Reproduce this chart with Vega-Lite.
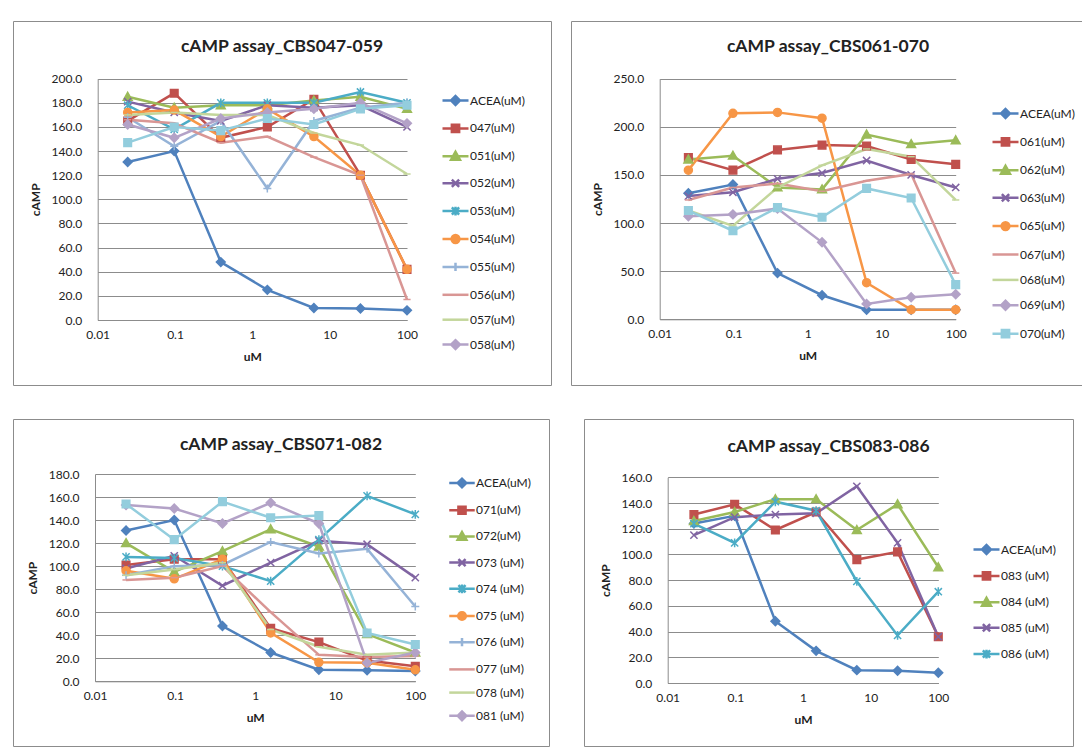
{
"$schema": "https://vega.github.io/schema/vega-lite/v6.json",
"background": "white",
"padding": {"left": 12, "top": 20, "right": 0, "bottom": 0},
"autosize": {"type": "pad"},
"datasets": {
"p1": [
{"series":"ACEA(uM)","uM":0.0244140625,"cAMP":131},{"series":"ACEA(uM)","uM":0.09765625,"cAMP":140},{"series":"ACEA(uM)","uM":0.390625,"cAMP":48},{"series":"ACEA(uM)","uM":1.5625,"cAMP":25},{"series":"ACEA(uM)","uM":6.25,"cAMP":10},{"series":"ACEA(uM)","uM":25,"cAMP":9.5},{"series":"ACEA(uM)","uM":100,"cAMP":8},
{"series":"047(uM)","uM":0.0244140625,"cAMP":165},{"series":"047(uM)","uM":0.09765625,"cAMP":188},{"series":"047(uM)","uM":0.390625,"cAMP":151},{"series":"047(uM)","uM":1.5625,"cAMP":160},{"series":"047(uM)","uM":6.25,"cAMP":183},{"series":"047(uM)","uM":25,"cAMP":120},{"series":"047(uM)","uM":100,"cAMP":42},
{"series":"051(uM)","uM":0.0244140625,"cAMP":185},{"series":"051(uM)","uM":0.09765625,"cAMP":176},{"series":"051(uM)","uM":0.390625,"cAMP":178},{"series":"051(uM)","uM":1.5625,"cAMP":178},{"series":"051(uM)","uM":6.25,"cAMP":182},{"series":"051(uM)","uM":25,"cAMP":185},{"series":"051(uM)","uM":100,"cAMP":175},
{"series":"052(uM)","uM":0.0244140625,"cAMP":181},{"series":"052(uM)","uM":0.09765625,"cAMP":172},{"series":"052(uM)","uM":0.390625,"cAMP":165},{"series":"052(uM)","uM":1.5625,"cAMP":178},{"series":"052(uM)","uM":6.25,"cAMP":176},{"series":"052(uM)","uM":25,"cAMP":178},{"series":"052(uM)","uM":100,"cAMP":160},
{"series":"053(uM)","uM":0.0244140625,"cAMP":178},{"series":"053(uM)","uM":0.09765625,"cAMP":158},{"series":"053(uM)","uM":0.390625,"cAMP":180},{"series":"053(uM)","uM":1.5625,"cAMP":180},{"series":"053(uM)","uM":6.25,"cAMP":180},{"series":"053(uM)","uM":25,"cAMP":189},{"series":"053(uM)","uM":100,"cAMP":180},
{"series":"054(uM)","uM":0.0244140625,"cAMP":172},{"series":"054(uM)","uM":0.09765625,"cAMP":174},{"series":"054(uM)","uM":0.390625,"cAMP":152},{"series":"054(uM)","uM":1.5625,"cAMP":175},{"series":"054(uM)","uM":6.25,"cAMP":152},{"series":"054(uM)","uM":25,"cAMP":120},{"series":"054(uM)","uM":100,"cAMP":42},
{"series":"055(uM)","uM":0.0244140625,"cAMP":168},{"series":"055(uM)","uM":0.09765625,"cAMP":144},{"series":"055(uM)","uM":0.390625,"cAMP":165},{"series":"055(uM)","uM":1.5625,"cAMP":109},{"series":"055(uM)","uM":6.25,"cAMP":165},{"series":"055(uM)","uM":25,"cAMP":176},{"series":"055(uM)","uM":100,"cAMP":180},
{"series":"056(uM)","uM":0.0244140625,"cAMP":166},{"series":"056(uM)","uM":0.09765625,"cAMP":163},{"series":"056(uM)","uM":0.390625,"cAMP":147},{"series":"056(uM)","uM":1.5625,"cAMP":152},{"series":"056(uM)","uM":6.25,"cAMP":135},{"series":"056(uM)","uM":25,"cAMP":120},{"series":"056(uM)","uM":100,"cAMP":17},
{"series":"057(uM)","uM":0.0244140625,"cAMP":170},{"series":"057(uM)","uM":0.09765625,"cAMP":172},{"series":"057(uM)","uM":0.390625,"cAMP":170},{"series":"057(uM)","uM":1.5625,"cAMP":170},{"series":"057(uM)","uM":6.25,"cAMP":155},{"series":"057(uM)","uM":25,"cAMP":145},{"series":"057(uM)","uM":100,"cAMP":121},
{"series":"058(uM)","uM":0.0244140625,"cAMP":162},{"series":"058(uM)","uM":0.09765625,"cAMP":151},{"series":"058(uM)","uM":0.390625,"cAMP":167},{"series":"058(uM)","uM":1.5625,"cAMP":172},{"series":"058(uM)","uM":6.25,"cAMP":175},{"series":"058(uM)","uM":25,"cAMP":180},{"series":"058(uM)","uM":100,"cAMP":163},
{"series":"059(uM)","uM":0.0244140625,"cAMP":147},{"series":"059(uM)","uM":0.09765625,"cAMP":160},{"series":"059(uM)","uM":0.390625,"cAMP":157},{"series":"059(uM)","uM":1.5625,"cAMP":167},{"series":"059(uM)","uM":6.25,"cAMP":162},{"series":"059(uM)","uM":25,"cAMP":175},{"series":"059(uM)","uM":100,"cAMP":178}
],
"p2": [
{"series":"ACEA(uM)","uM":0.0244140625,"cAMP":131},{"series":"ACEA(uM)","uM":0.09765625,"cAMP":140},{"series":"ACEA(uM)","uM":0.390625,"cAMP":48},{"series":"ACEA(uM)","uM":1.5625,"cAMP":25},{"series":"ACEA(uM)","uM":6.25,"cAMP":10},{"series":"ACEA(uM)","uM":25,"cAMP":10},{"series":"ACEA(uM)","uM":100,"cAMP":10},
{"series":"061(uM)","uM":0.0244140625,"cAMP":168},{"series":"061(uM)","uM":0.09765625,"cAMP":155},{"series":"061(uM)","uM":0.390625,"cAMP":176},{"series":"061(uM)","uM":1.5625,"cAMP":181},{"series":"061(uM)","uM":6.25,"cAMP":180},{"series":"061(uM)","uM":25,"cAMP":166},{"series":"061(uM)","uM":100,"cAMP":161},
{"series":"062(uM)","uM":0.0244140625,"cAMP":166},{"series":"062(uM)","uM":0.09765625,"cAMP":170},{"series":"062(uM)","uM":0.390625,"cAMP":137},{"series":"062(uM)","uM":1.5625,"cAMP":135},{"series":"062(uM)","uM":6.25,"cAMP":192},{"series":"062(uM)","uM":25,"cAMP":182},{"series":"062(uM)","uM":100,"cAMP":186},
{"series":"063(uM)","uM":0.0244140625,"cAMP":128},{"series":"063(uM)","uM":0.09765625,"cAMP":132},{"series":"063(uM)","uM":0.390625,"cAMP":146},{"series":"063(uM)","uM":1.5625,"cAMP":152},{"series":"063(uM)","uM":6.25,"cAMP":165},{"series":"063(uM)","uM":25,"cAMP":150},{"series":"063(uM)","uM":100,"cAMP":137},
{"series":"065(uM)","uM":0.0244140625,"cAMP":155},{"series":"065(uM)","uM":0.09765625,"cAMP":214},{"series":"065(uM)","uM":0.390625,"cAMP":215},{"series":"065(uM)","uM":1.5625,"cAMP":209},{"series":"065(uM)","uM":6.25,"cAMP":38},{"series":"065(uM)","uM":25,"cAMP":10},{"series":"065(uM)","uM":100,"cAMP":10},
{"series":"067(uM)","uM":0.0244140625,"cAMP":124},{"series":"067(uM)","uM":0.09765625,"cAMP":137},{"series":"067(uM)","uM":0.390625,"cAMP":141},{"series":"067(uM)","uM":1.5625,"cAMP":133},{"series":"067(uM)","uM":6.25,"cAMP":144},{"series":"067(uM)","uM":25,"cAMP":151},{"series":"067(uM)","uM":100,"cAMP":48},
{"series":"068(uM)","uM":0.0244140625,"cAMP":113},{"series":"068(uM)","uM":0.09765625,"cAMP":97},{"series":"068(uM)","uM":0.390625,"cAMP":137},{"series":"068(uM)","uM":1.5625,"cAMP":160},{"series":"068(uM)","uM":6.25,"cAMP":177},{"series":"068(uM)","uM":25,"cAMP":169},{"series":"068(uM)","uM":100,"cAMP":124},
{"series":"069(uM)","uM":0.0244140625,"cAMP":107},{"series":"069(uM)","uM":0.09765625,"cAMP":109},{"series":"069(uM)","uM":0.390625,"cAMP":115},{"series":"069(uM)","uM":1.5625,"cAMP":80},{"series":"069(uM)","uM":6.25,"cAMP":16},{"series":"069(uM)","uM":25,"cAMP":23},{"series":"069(uM)","uM":100,"cAMP":26},
{"series":"070(uM)","uM":0.0244140625,"cAMP":113},{"series":"070(uM)","uM":0.09765625,"cAMP":92},{"series":"070(uM)","uM":0.390625,"cAMP":116},{"series":"070(uM)","uM":1.5625,"cAMP":106},{"series":"070(uM)","uM":6.25,"cAMP":136},{"series":"070(uM)","uM":25,"cAMP":126},{"series":"070(uM)","uM":100,"cAMP":36}
],
"p3": [
{"series":"ACEA(uM)","uM":0.0244140625,"cAMP":131},{"series":"ACEA(uM)","uM":0.09765625,"cAMP":140},{"series":"ACEA(uM)","uM":0.390625,"cAMP":48},{"series":"ACEA(uM)","uM":1.5625,"cAMP":25},{"series":"ACEA(uM)","uM":6.25,"cAMP":10},{"series":"ACEA(uM)","uM":25,"cAMP":9.5},{"series":"ACEA(uM)","uM":100,"cAMP":9},
{"series":"071(uM)","uM":0.0244140625,"cAMP":101},{"series":"071(uM)","uM":0.09765625,"cAMP":106},{"series":"071(uM)","uM":0.390625,"cAMP":106},{"series":"071(uM)","uM":1.5625,"cAMP":46},{"series":"071(uM)","uM":6.25,"cAMP":34},{"series":"071(uM)","uM":25,"cAMP":18},{"series":"071(uM)","uM":100,"cAMP":13},
{"series":"072(uM)","uM":0.0244140625,"cAMP":120},{"series":"072(uM)","uM":0.09765625,"cAMP":95},{"series":"072(uM)","uM":0.390625,"cAMP":113},{"series":"072(uM)","uM":1.5625,"cAMP":132},{"series":"072(uM)","uM":6.25,"cAMP":117},{"series":"072(uM)","uM":25,"cAMP":41},{"series":"072(uM)","uM":100,"cAMP":25},
{"series":"073 (uM)","uM":0.0244140625,"cAMP":98},{"series":"073 (uM)","uM":0.09765625,"cAMP":109},{"series":"073 (uM)","uM":0.390625,"cAMP":83},{"series":"073 (uM)","uM":1.5625,"cAMP":103},{"series":"073 (uM)","uM":6.25,"cAMP":122},{"series":"073 (uM)","uM":25,"cAMP":119},{"series":"073 (uM)","uM":100,"cAMP":90},
{"series":"074 (uM)","uM":0.0244140625,"cAMP":108},{"series":"074 (uM)","uM":0.09765625,"cAMP":107},{"series":"074 (uM)","uM":0.390625,"cAMP":100},{"series":"074 (uM)","uM":1.5625,"cAMP":87},{"series":"074 (uM)","uM":6.25,"cAMP":123},{"series":"074 (uM)","uM":25,"cAMP":161},{"series":"074 (uM)","uM":100,"cAMP":145},
{"series":"075 (uM)","uM":0.0244140625,"cAMP":96},{"series":"075 (uM)","uM":0.09765625,"cAMP":89},{"series":"075 (uM)","uM":0.390625,"cAMP":106},{"series":"075 (uM)","uM":1.5625,"cAMP":42},{"series":"075 (uM)","uM":6.25,"cAMP":16.5},{"series":"075 (uM)","uM":25,"cAMP":16},{"series":"075 (uM)","uM":100,"cAMP":10},
{"series":"076 (uM)","uM":0.0244140625,"cAMP":92},{"series":"076 (uM)","uM":0.09765625,"cAMP":100},{"series":"076 (uM)","uM":0.390625,"cAMP":101},{"series":"076 (uM)","uM":1.5625,"cAMP":121},{"series":"076 (uM)","uM":6.25,"cAMP":111},{"series":"076 (uM)","uM":25,"cAMP":115},{"series":"076 (uM)","uM":100,"cAMP":65},
{"series":"077 (uM)","uM":0.0244140625,"cAMP":88},{"series":"077 (uM)","uM":0.09765625,"cAMP":90},{"series":"077 (uM)","uM":0.390625,"cAMP":100},{"series":"077 (uM)","uM":1.5625,"cAMP":60},{"series":"077 (uM)","uM":6.25,"cAMP":23},{"series":"077 (uM)","uM":25,"cAMP":21},{"series":"077 (uM)","uM":100,"cAMP":22},
{"series":"078 (uM)","uM":0.0244140625,"cAMP":92},{"series":"078 (uM)","uM":0.09765625,"cAMP":97},{"series":"078 (uM)","uM":0.390625,"cAMP":103},{"series":"078 (uM)","uM":1.5625,"cAMP":45},{"series":"078 (uM)","uM":6.25,"cAMP":30},{"series":"078 (uM)","uM":25,"cAMP":23},{"series":"078 (uM)","uM":100,"cAMP":25},
{"series":"081 (uM)","uM":0.0244140625,"cAMP":153},{"series":"081 (uM)","uM":0.09765625,"cAMP":150},{"series":"081 (uM)","uM":0.390625,"cAMP":137},{"series":"081 (uM)","uM":1.5625,"cAMP":155},{"series":"081 (uM)","uM":6.25,"cAMP":137},{"series":"081 (uM)","uM":25,"cAMP":16},{"series":"081 (uM)","uM":100,"cAMP":25},
{"series":"082 (uM)","uM":0.0244140625,"cAMP":154},{"series":"082 (uM)","uM":0.09765625,"cAMP":123},{"series":"082 (uM)","uM":0.390625,"cAMP":156},{"series":"082 (uM)","uM":1.5625,"cAMP":142},{"series":"082 (uM)","uM":6.25,"cAMP":144},{"series":"082 (uM)","uM":25,"cAMP":42},{"series":"082 (uM)","uM":100,"cAMP":32}
],
"p4": [
{"series":"ACEA(uM)","uM":0.0244140625,"cAMP":124},{"series":"ACEA(uM)","uM":0.09765625,"cAMP":130},{"series":"ACEA(uM)","uM":0.390625,"cAMP":48},{"series":"ACEA(uM)","uM":1.5625,"cAMP":25},{"series":"ACEA(uM)","uM":6.25,"cAMP":10},{"series":"ACEA(uM)","uM":25,"cAMP":9.5},{"series":"ACEA(uM)","uM":100,"cAMP":8},
{"series":"083 (uM)","uM":0.0244140625,"cAMP":131},{"series":"083 (uM)","uM":0.09765625,"cAMP":139},{"series":"083 (uM)","uM":0.390625,"cAMP":119},{"series":"083 (uM)","uM":1.5625,"cAMP":133},{"series":"083 (uM)","uM":6.25,"cAMP":96},{"series":"083 (uM)","uM":25,"cAMP":102},{"series":"083 (uM)","uM":100,"cAMP":36},
{"series":"084 (uM)","uM":0.0244140625,"cAMP":126},{"series":"084 (uM)","uM":0.09765625,"cAMP":133},{"series":"084 (uM)","uM":0.390625,"cAMP":143},{"series":"084 (uM)","uM":1.5625,"cAMP":143},{"series":"084 (uM)","uM":6.25,"cAMP":119},{"series":"084 (uM)","uM":25,"cAMP":139},{"series":"084 (uM)","uM":100,"cAMP":90},
{"series":"085 (uM)","uM":0.0244140625,"cAMP":115},{"series":"085 (uM)","uM":0.09765625,"cAMP":129},{"series":"085 (uM)","uM":0.390625,"cAMP":131},{"series":"085 (uM)","uM":1.5625,"cAMP":132},{"series":"085 (uM)","uM":6.25,"cAMP":153},{"series":"085 (uM)","uM":25,"cAMP":109},{"series":"085 (uM)","uM":100,"cAMP":36},
{"series":"086 (uM)","uM":0.0244140625,"cAMP":124},{"series":"086 (uM)","uM":0.09765625,"cAMP":109},{"series":"086 (uM)","uM":0.390625,"cAMP":141},{"series":"086 (uM)","uM":1.5625,"cAMP":134},{"series":"086 (uM)","uM":6.25,"cAMP":79},{"series":"086 (uM)","uM":25,"cAMP":37},{"series":"086 (uM)","uM":100,"cAMP":71}
]
},
"config": {
"font": "Lato",
"view": {"stroke": "#8c8c8c", "strokeWidth": 1},
"axis": {"labelFont": "Lato", "labelFontSize": 12, "labelColor": "#222222", "titleFont": "Lato", "titleFontSize": 12, "titleFontWeight": "bold", "titleColor": "#222222", "gridColor": "#8c8c8c", "gridWidth": 1, "domainColor": "#8c8c8c", "domainWidth": 1, "ticks": false, "labelFlush": false, "labelOverlap": false, "tickCount": 20},
"axisX": {"grid": false, "labelPadding": 9, "titlePadding": 11},
"axisY": {"grid": true, "labelPadding": 16, "titlePadding": 9},
"legend": {"labelFont": "Lato", "labelFontSize": 12, "labelColor": "#222222", "symbolSize": 676, "symbolStrokeWidth": 2.5, "symbolOpacity": 1, "labelOffset": 0, "padding": 0},
"title": {"font": "Lato", "fontSize": 17.5, "fontWeight": "bold", "color": "#222222", "anchor": "middle", "frame": "group", "baseline": "middle", "offset": -34}
},
"spacing": 32,
"resolve": {"scale": {"x": "independent", "y": "independent", "color": "independent", "stroke": "independent", "shape": "independent"}, "legend": {"color": "independent", "stroke": "independent", "shape": "independent"}},
"vconcat": [
{"hconcat": [
{"title": "cAMP assay_CBS047-059", "width": 538, "height": 364, "data": {"name": "p1"},
 "resolve": {"scale": {"color": "independent", "stroke": "independent", "shape": "independent"}, "legend": {"color": "independent", "stroke": "independent", "shape": "independent"}},
 "layer": [
 {"mark": {"type": "line", "strokeWidth": 2.5},
  "encoding": {
   "x": {"field": "uM", "type": "quantitative", "scale": {"type": "log", "domain": [0.01, 100], "range": [84.7, 394]}, "axis": {"title": "uM", "values": [0.01, 0.1, 1, 10, 100], "format": "~g", "offset": -65, "tickCount": 20}},
   "y": {"field": "cAMP", "type": "quantitative", "scale": {"domain": [0, 200], "range": [299, 57.7], "nice": false}, "axis": {"title": "cAMP", "values": [0, 20, 40, 60, 80, 100, 120, 140, 160, 180, 200], "format": ".1f", "offset": -84.7, "tickCount": 20}},
   "color": {"field": "series", "type": "nominal", "scale": {"domain": ["ACEA(uM)","047(uM)","051(uM)","052(uM)","053(uM)","054(uM)","055(uM)","056(uM)","057(uM)","058(uM)","059(uM)"], "range": ["#4F81BD","#C0504D","#9BBB59","#8064A2","#4BACC6","#F79646","#95B3D7","#D99694","#C3D69B","#B3A2C7","#93CDDD"]}, "legend": null}
  }},
 {"mark": {"type": "point", "filled": true, "size": 64, "strokeWidth": 1.5, "opacity": 1},
  "encoding": {
   "x": {"field": "uM", "type": "quantitative"},
   "y": {"field": "cAMP", "type": "quantitative"},
   "color": {"field": "series", "type": "nominal", "scale": {"domain": ["ACEA(uM)","047(uM)","051(uM)","052(uM)","053(uM)","054(uM)","055(uM)","056(uM)","057(uM)","058(uM)","059(uM)"], "range": ["#4F81BD","#C0504D","#9BBB59","#8064A2","#4BACC6","#F79646","#95B3D7","#D99694","#C3D69B","#B3A2C7","#93CDDD"]}, "legend": null},
   "stroke": {"field": "series", "type": "nominal", "scale": {"domain": ["ACEA(uM)","047(uM)","051(uM)","052(uM)","053(uM)","054(uM)","055(uM)","056(uM)","057(uM)","058(uM)","059(uM)"], "range": ["#4F81BD","#C0504D","#9BBB59","#8064A2","#4BACC6","#F79646","#95B3D7","#D99694","#C3D69B","#B3A2C7","#93CDDD"]}, "legend": null},
   "shape": {"field": "series", "type": "nominal", "scale": {"domain": ["ACEA(uM)","047(uM)","051(uM)","052(uM)","053(uM)","054(uM)","055(uM)","056(uM)","057(uM)","058(uM)","059(uM)"], "range": ["M-1.1,0L0,-1.1L1.1,0L0,1.1Z","M-0.95,-0.95H0.95V0.95H-0.95Z","M0,-1.1L1.1,0.85H-1.1Z","M-0.9,-0.9L0.9,0.9M-0.9,0.9L0.9,-0.9","M-0.9,-0.9L0.9,0.9M-0.9,0.9L0.9,-0.9M0,-1.1V1.1","M1,0A1,1,0,1,1,-1,0A1,1,0,1,1,1,0Z","M-1,0H1M0,-1V1","M-0.9,0H0.9","M-0.9,0H0.9","M-1.1,0L0,-1.1L1.1,0L0,1.1Z","M-0.95,-0.95H0.95V0.95H-0.95Z"]}, "legend": null}
  }},
 {"transform": [{"filter": "false"}],
  "mark": {"type": "point", "filled": true, "strokeWidth": 2.5, "opacity": 1},
  "encoding": {
   "x": {"field": "uM", "type": "quantitative"},
   "y": {"field": "cAMP", "type": "quantitative"},
   "color": {"field": "series", "type": "nominal", "scale": {"domain": ["ACEA(uM)","047(uM)","051(uM)","052(uM)","053(uM)","054(uM)","055(uM)","056(uM)","057(uM)","058(uM)","059(uM)"], "range": ["#4F81BD","#C0504D","#9BBB59","#8064A2","#4BACC6","#F79646","#95B3D7","#D99694","#C3D69B","#B3A2C7","#93CDDD"]}, "legend": {"title": null, "orient": "none", "legendX": 428, "legendY": 65, "rowPadding": 3.9, "values": ["ACEA(uM)","047(uM)","051(uM)","052(uM)","053(uM)","054(uM)","055(uM)","056(uM)","057(uM)","058(uM)"]}},
   "stroke": {"field": "series", "type": "nominal", "scale": {"domain": ["ACEA(uM)","047(uM)","051(uM)","052(uM)","053(uM)","054(uM)","055(uM)","056(uM)","057(uM)","058(uM)","059(uM)"], "range": ["#4F81BD","#C0504D","#9BBB59","#8064A2","#4BACC6","#F79646","#95B3D7","#D99694","#C3D69B","#B3A2C7","#93CDDD"]}, "legend": {"title": null, "orient": "none", "legendX": 428, "legendY": 65, "rowPadding": 3.9, "values": ["ACEA(uM)","047(uM)","051(uM)","052(uM)","053(uM)","054(uM)","055(uM)","056(uM)","057(uM)","058(uM)"]}},
   "shape": {"field": "series", "type": "nominal", "scale": {"domain": ["ACEA(uM)","047(uM)","051(uM)","052(uM)","053(uM)","054(uM)","055(uM)","056(uM)","057(uM)","058(uM)","059(uM)"], "range": ["M-1,0H1M-0.34,0L0,-0.34L0.34,0L0,0.34Z","M-1,0H1M-0.28,-0.28H0.28V0.28H-0.28Z","M-1,0H1M0,-0.34L0.34,0.26H-0.34Z","M-1,0H1M-0.28,-0.28L0.28,0.28M-0.28,0.28L0.28,-0.28","M-1,0H1M-0.28,-0.28L0.28,0.28M-0.28,0.28L0.28,-0.28M0,-0.34V0.34","M-1,0H1M0.3,0A0.3,0.3,0,1,1,-0.3,0A0.3,0.3,0,1,1,0.3,0Z","M-1,0H1M0,-0.32V0.32","M-1,0H1","M-1,0H1","M-1,0H1M-0.34,0L0,-0.34L0.34,0L0,0.34Z","M-1,0H1M-0.28,-0.28H0.28V0.28H-0.28Z"]}, "legend": {"title": null, "orient": "none", "legendX": 428, "legendY": 65, "rowPadding": 3.9, "values": ["ACEA(uM)","047(uM)","051(uM)","052(uM)","053(uM)","054(uM)","055(uM)","056(uM)","057(uM)","058(uM)"]}}
  }}
 ]},
{"title": "cAMP assay_CBS061-070", "width": 514, "height": 364, "data": {"name": "p2"},
 "resolve": {"scale": {"color": "independent", "stroke": "independent", "shape": "independent"}, "legend": {"color": "independent", "stroke": "independent", "shape": "independent"}},
 "layer": [
 {"mark": {"type": "line", "strokeWidth": 2.5},
  "encoding": {
   "x": {"field": "uM", "type": "quantitative", "scale": {"type": "log", "domain": [0.01, 100], "range": [88.7, 384.7]}, "axis": {"title": "uM", "values": [0.01, 0.1, 1, 10, 100], "format": "~g", "offset": -65.7, "tickCount": 20}},
   "y": {"field": "cAMP", "type": "quantitative", "scale": {"domain": [0, 250], "range": [298.3, 57.7], "nice": false}, "axis": {"title": "cAMP", "values": [0, 50, 100, 150, 200, 250], "format": ".1f", "offset": -88.7, "tickCount": 20}},
   "color": {"field": "series", "type": "nominal", "scale": {"domain": ["ACEA(uM)","061(uM)","062(uM)","063(uM)","065(uM)","067(uM)","068(uM)","069(uM)","070(uM)"], "range": ["#4F81BD","#C0504D","#9BBB59","#8064A2","#F79646","#D99694","#C3D69B","#B3A2C7","#93CDDD"]}, "legend": null}
  }},
 {"mark": {"type": "point", "filled": true, "size": 64, "strokeWidth": 1.5, "opacity": 1},
  "encoding": {
   "x": {"field": "uM", "type": "quantitative"},
   "y": {"field": "cAMP", "type": "quantitative"},
   "color": {"field": "series", "type": "nominal", "scale": {"domain": ["ACEA(uM)","061(uM)","062(uM)","063(uM)","065(uM)","067(uM)","068(uM)","069(uM)","070(uM)"], "range": ["#4F81BD","#C0504D","#9BBB59","#8064A2","#F79646","#D99694","#C3D69B","#B3A2C7","#93CDDD"]}, "legend": null},
   "stroke": {"field": "series", "type": "nominal", "scale": {"domain": ["ACEA(uM)","061(uM)","062(uM)","063(uM)","065(uM)","067(uM)","068(uM)","069(uM)","070(uM)"], "range": ["#4F81BD","#C0504D","#9BBB59","#8064A2","#F79646","#D99694","#C3D69B","#B3A2C7","#93CDDD"]}, "legend": null},
   "shape": {"field": "series", "type": "nominal", "scale": {"domain": ["ACEA(uM)","061(uM)","062(uM)","063(uM)","065(uM)","067(uM)","068(uM)","069(uM)","070(uM)"], "range": ["M-1.1,0L0,-1.1L1.1,0L0,1.1Z","M-0.95,-0.95H0.95V0.95H-0.95Z","M0,-1.1L1.1,0.85H-1.1Z","M-0.9,-0.9L0.9,0.9M-0.9,0.9L0.9,-0.9","M1,0A1,1,0,1,1,-1,0A1,1,0,1,1,1,0Z","M-0.9,0H0.9","M-0.9,0H0.9","M-1.1,0L0,-1.1L1.1,0L0,1.1Z","M-0.95,-0.95H0.95V0.95H-0.95Z"]}, "legend": null}
  }},
 {"transform": [{"filter": "false"}],
  "mark": {"type": "point", "filled": true, "strokeWidth": 2.5, "opacity": 1},
  "encoding": {
   "x": {"field": "uM", "type": "quantitative"},
   "y": {"field": "cAMP", "type": "quantitative"},
   "color": {"field": "series", "type": "nominal", "scale": {"domain": ["ACEA(uM)","061(uM)","062(uM)","063(uM)","065(uM)","067(uM)","068(uM)","069(uM)","070(uM)"], "range": ["#4F81BD","#C0504D","#9BBB59","#8064A2","#F79646","#D99694","#C3D69B","#B3A2C7","#93CDDD"]}, "legend": {"title": null, "orient": "none", "legendX": 420, "legendY": 78, "rowPadding": 4.4}},
   "stroke": {"field": "series", "type": "nominal", "scale": {"domain": ["ACEA(uM)","061(uM)","062(uM)","063(uM)","065(uM)","067(uM)","068(uM)","069(uM)","070(uM)"], "range": ["#4F81BD","#C0504D","#9BBB59","#8064A2","#F79646","#D99694","#C3D69B","#B3A2C7","#93CDDD"]}, "legend": {"title": null, "orient": "none", "legendX": 420, "legendY": 78, "rowPadding": 4.4}},
   "shape": {"field": "series", "type": "nominal", "scale": {"domain": ["ACEA(uM)","061(uM)","062(uM)","063(uM)","065(uM)","067(uM)","068(uM)","069(uM)","070(uM)"], "range": ["M-1,0H1M-0.34,0L0,-0.34L0.34,0L0,0.34Z","M-1,0H1M-0.28,-0.28H0.28V0.28H-0.28Z","M-1,0H1M0,-0.34L0.34,0.26H-0.34Z","M-1,0H1M-0.28,-0.28L0.28,0.28M-0.28,0.28L0.28,-0.28","M-1,0H1M0.3,0A0.3,0.3,0,1,1,-0.3,0A0.3,0.3,0,1,1,0.3,0Z","M-1,0H1","M-1,0H1","M-1,0H1M-0.34,0L0,-0.34L0.34,0L0,0.34Z","M-1,0H1M-0.28,-0.28H0.28V0.28H-0.28Z"]}, "legend": {"title": null, "orient": "none", "legendX": 420, "legendY": 78, "rowPadding": 4.4}}
  }}
 ]}
], "spacing": 18, "resolve": {"scale": {"x": "independent", "y": "independent", "color": "independent", "stroke": "independent", "shape": "independent"}, "legend": {"color": "independent", "stroke": "independent", "shape": "independent"}}},
{"hconcat": [
{"title": "cAMP assay_CBS071-082", "width": 536, "height": 327, "data": {"name": "p3"},
 "resolve": {"scale": {"color": "independent", "stroke": "independent", "shape": "independent"}, "legend": {"color": "independent", "stroke": "independent", "shape": "independent"}},
 "layer": [
 {"mark": {"type": "line", "strokeWidth": 2.5},
  "encoding": {
   "x": {"field": "uM", "type": "quantitative", "scale": {"type": "log", "domain": [0.01, 100], "range": [82, 402.3]}, "axis": {"title": "uM", "values": [0.01, 0.1, 1, 10, 100], "format": "~g", "offset": -64.7, "tickCount": 20}},
   "y": {"field": "cAMP", "type": "quantitative", "scale": {"domain": [0, 180], "range": [262.3, 55], "nice": false}, "axis": {"title": "cAMP", "values": [0, 20, 40, 60, 80, 100, 120, 140, 160, 180], "format": ".1f", "offset": -82, "tickCount": 20}},
   "color": {"field": "series", "type": "nominal", "scale": {"domain": ["ACEA(uM)","071(uM)","072(uM)","073 (uM)","074 (uM)","075 (uM)","076 (uM)","077 (uM)","078 (uM)","081 (uM)","082 (uM)"], "range": ["#4F81BD","#C0504D","#9BBB59","#8064A2","#4BACC6","#F79646","#95B3D7","#D99694","#C3D69B","#B3A2C7","#93CDDD"]}, "legend": null}
  }},
 {"mark": {"type": "point", "filled": true, "size": 64, "strokeWidth": 1.5, "opacity": 1},
  "encoding": {
   "x": {"field": "uM", "type": "quantitative"},
   "y": {"field": "cAMP", "type": "quantitative"},
   "color": {"field": "series", "type": "nominal", "scale": {"domain": ["ACEA(uM)","071(uM)","072(uM)","073 (uM)","074 (uM)","075 (uM)","076 (uM)","077 (uM)","078 (uM)","081 (uM)","082 (uM)"], "range": ["#4F81BD","#C0504D","#9BBB59","#8064A2","#4BACC6","#F79646","#95B3D7","#D99694","#C3D69B","#B3A2C7","#93CDDD"]}, "legend": null},
   "stroke": {"field": "series", "type": "nominal", "scale": {"domain": ["ACEA(uM)","071(uM)","072(uM)","073 (uM)","074 (uM)","075 (uM)","076 (uM)","077 (uM)","078 (uM)","081 (uM)","082 (uM)"], "range": ["#4F81BD","#C0504D","#9BBB59","#8064A2","#4BACC6","#F79646","#95B3D7","#D99694","#C3D69B","#B3A2C7","#93CDDD"]}, "legend": null},
   "shape": {"field": "series", "type": "nominal", "scale": {"domain": ["ACEA(uM)","071(uM)","072(uM)","073 (uM)","074 (uM)","075 (uM)","076 (uM)","077 (uM)","078 (uM)","081 (uM)","082 (uM)"], "range": ["M-1.1,0L0,-1.1L1.1,0L0,1.1Z","M-0.95,-0.95H0.95V0.95H-0.95Z","M0,-1.1L1.1,0.85H-1.1Z","M-0.9,-0.9L0.9,0.9M-0.9,0.9L0.9,-0.9","M-0.9,-0.9L0.9,0.9M-0.9,0.9L0.9,-0.9M0,-1.1V1.1","M1,0A1,1,0,1,1,-1,0A1,1,0,1,1,1,0Z","M-1,0H1M0,-1V1","M-0.9,0H0.9","M-0.9,0H0.9","M-1.1,0L0,-1.1L1.1,0L0,1.1Z","M-0.95,-0.95H0.95V0.95H-0.95Z"]}, "legend": null}
  }},
 {"transform": [{"filter": "false"}],
  "mark": {"type": "point", "filled": true, "strokeWidth": 2.5, "opacity": 1},
  "encoding": {
   "x": {"field": "uM", "type": "quantitative"},
   "y": {"field": "cAMP", "type": "quantitative"},
   "color": {"field": "series", "type": "nominal", "scale": {"domain": ["ACEA(uM)","071(uM)","072(uM)","073 (uM)","074 (uM)","075 (uM)","076 (uM)","077 (uM)","078 (uM)","081 (uM)","082 (uM)"], "range": ["#4F81BD","#C0504D","#9BBB59","#8064A2","#4BACC6","#F79646","#95B3D7","#D99694","#C3D69B","#B3A2C7","#93CDDD"]}, "legend": {"title": null, "orient": "none", "legendX": 435, "legendY": 50, "rowPadding": 3.2, "symbolSize": 650, "values": ["ACEA(uM)","071(uM)","072(uM)","073 (uM)","074 (uM)","075 (uM)","076 (uM)","077 (uM)","078 (uM)","081 (uM)"]}},
   "stroke": {"field": "series", "type": "nominal", "scale": {"domain": ["ACEA(uM)","071(uM)","072(uM)","073 (uM)","074 (uM)","075 (uM)","076 (uM)","077 (uM)","078 (uM)","081 (uM)","082 (uM)"], "range": ["#4F81BD","#C0504D","#9BBB59","#8064A2","#4BACC6","#F79646","#95B3D7","#D99694","#C3D69B","#B3A2C7","#93CDDD"]}, "legend": {"title": null, "orient": "none", "legendX": 435, "legendY": 50, "rowPadding": 3.2, "symbolSize": 650, "values": ["ACEA(uM)","071(uM)","072(uM)","073 (uM)","074 (uM)","075 (uM)","076 (uM)","077 (uM)","078 (uM)","081 (uM)"]}},
   "shape": {"field": "series", "type": "nominal", "scale": {"domain": ["ACEA(uM)","071(uM)","072(uM)","073 (uM)","074 (uM)","075 (uM)","076 (uM)","077 (uM)","078 (uM)","081 (uM)","082 (uM)"], "range": ["M-1,0H1M-0.34,0L0,-0.34L0.34,0L0,0.34Z","M-1,0H1M-0.28,-0.28H0.28V0.28H-0.28Z","M-1,0H1M0,-0.34L0.34,0.26H-0.34Z","M-1,0H1M-0.28,-0.28L0.28,0.28M-0.28,0.28L0.28,-0.28","M-1,0H1M-0.28,-0.28L0.28,0.28M-0.28,0.28L0.28,-0.28M0,-0.34V0.34","M-1,0H1M0.3,0A0.3,0.3,0,1,1,-0.3,0A0.3,0.3,0,1,1,0.3,0Z","M-1,0H1M0,-0.32V0.32","M-1,0H1","M-1,0H1","M-1,0H1M-0.34,0L0,-0.34L0.34,0L0,0.34Z","M-1,0H1M-0.28,-0.28H0.28V0.28H-0.28Z"]}, "legend": {"title": null, "orient": "none", "legendX": 435, "legendY": 50, "rowPadding": 3.2, "symbolSize": 650, "values": ["ACEA(uM)","071(uM)","072(uM)","073 (uM)","074 (uM)","075 (uM)","076 (uM)","077 (uM)","078 (uM)","081 (uM)"]}}
  }}
 ]},
{"title": {"text": "cAMP assay_CBS083-086", "offset": -36}, "width": 489, "height": 327, "data": {"name": "p4"},
 "resolve": {"scale": {"color": "independent", "stroke": "independent", "shape": "independent"}, "legend": {"color": "independent", "stroke": "independent", "shape": "independent"}},
 "layer": [
 {"mark": {"type": "line", "strokeWidth": 2.5},
  "encoding": {
   "x": {"field": "uM", "type": "quantitative", "scale": {"type": "log", "domain": [0.01, 100], "range": [83.7, 354.3]}, "axis": {"title": "uM", "values": [0.01, 0.1, 1, 10, 100], "format": "~g", "offset": -63, "tickCount": 20}},
   "y": {"field": "cAMP", "type": "quantitative", "scale": {"domain": [0, 160], "range": [264, 58.3], "nice": false}, "axis": {"title": "cAMP", "values": [0, 20, 40, 60, 80, 100, 120, 140, 160], "format": ".1f", "offset": -83.7, "tickCount": 20}},
   "color": {"field": "series", "type": "nominal", "scale": {"domain": ["ACEA(uM)","083 (uM)","084 (uM)","085 (uM)","086 (uM)"], "range": ["#4F81BD","#C0504D","#9BBB59","#8064A2","#4BACC6"]}, "legend": null}
  }},
 {"mark": {"type": "point", "filled": true, "size": 64, "strokeWidth": 1.5, "opacity": 1},
  "encoding": {
   "x": {"field": "uM", "type": "quantitative"},
   "y": {"field": "cAMP", "type": "quantitative"},
   "color": {"field": "series", "type": "nominal", "scale": {"domain": ["ACEA(uM)","083 (uM)","084 (uM)","085 (uM)","086 (uM)"], "range": ["#4F81BD","#C0504D","#9BBB59","#8064A2","#4BACC6"]}, "legend": null},
   "stroke": {"field": "series", "type": "nominal", "scale": {"domain": ["ACEA(uM)","083 (uM)","084 (uM)","085 (uM)","086 (uM)"], "range": ["#4F81BD","#C0504D","#9BBB59","#8064A2","#4BACC6"]}, "legend": null},
   "shape": {"field": "series", "type": "nominal", "scale": {"domain": ["ACEA(uM)","083 (uM)","084 (uM)","085 (uM)","086 (uM)"], "range": ["M-1.1,0L0,-1.1L1.1,0L0,1.1Z","M-0.95,-0.95H0.95V0.95H-0.95Z","M0,-1.1L1.1,0.85H-1.1Z","M-0.9,-0.9L0.9,0.9M-0.9,0.9L0.9,-0.9","M-0.9,-0.9L0.9,0.9M-0.9,0.9L0.9,-0.9M0,-1.1V1.1"]}, "legend": null}
  }},
 {"transform": [{"filter": "false"}],
  "mark": {"type": "point", "filled": true, "strokeWidth": 2.5, "opacity": 1},
  "encoding": {
   "x": {"field": "uM", "type": "quantitative"},
   "y": {"field": "cAMP", "type": "quantitative"},
   "color": {"field": "series", "type": "nominal", "scale": {"domain": ["ACEA(uM)","083 (uM)","084 (uM)","085 (uM)","086 (uM)"], "range": ["#4F81BD","#C0504D","#9BBB59","#8064A2","#4BACC6"]}, "legend": {"title": null, "orient": "none", "legendX": 388, "legendY": 116, "rowPadding": 2.4}},
   "stroke": {"field": "series", "type": "nominal", "scale": {"domain": ["ACEA(uM)","083 (uM)","084 (uM)","085 (uM)","086 (uM)"], "range": ["#4F81BD","#C0504D","#9BBB59","#8064A2","#4BACC6"]}, "legend": {"title": null, "orient": "none", "legendX": 388, "legendY": 116, "rowPadding": 2.4}},
   "shape": {"field": "series", "type": "nominal", "scale": {"domain": ["ACEA(uM)","083 (uM)","084 (uM)","085 (uM)","086 (uM)"], "range": ["M-1,0H1M-0.34,0L0,-0.34L0.34,0L0,0.34Z","M-1,0H1M-0.28,-0.28H0.28V0.28H-0.28Z","M-1,0H1M0,-0.34L0.34,0.26H-0.34Z","M-1,0H1M-0.28,-0.28L0.28,0.28M-0.28,0.28L0.28,-0.28","M-1,0H1M-0.28,-0.28L0.28,0.28M-0.28,0.28L0.28,-0.28M0,-0.34V0.34"]}, "legend": {"title": null, "orient": "none", "legendX": 388, "legendY": 116, "rowPadding": 2.4}}
  }}
 ]}
], "spacing": 33, "resolve": {"scale": {"x": "independent", "y": "independent", "color": "independent", "stroke": "independent", "shape": "independent"}, "legend": {"color": "independent", "stroke": "independent", "shape": "independent"}}}
]
}
